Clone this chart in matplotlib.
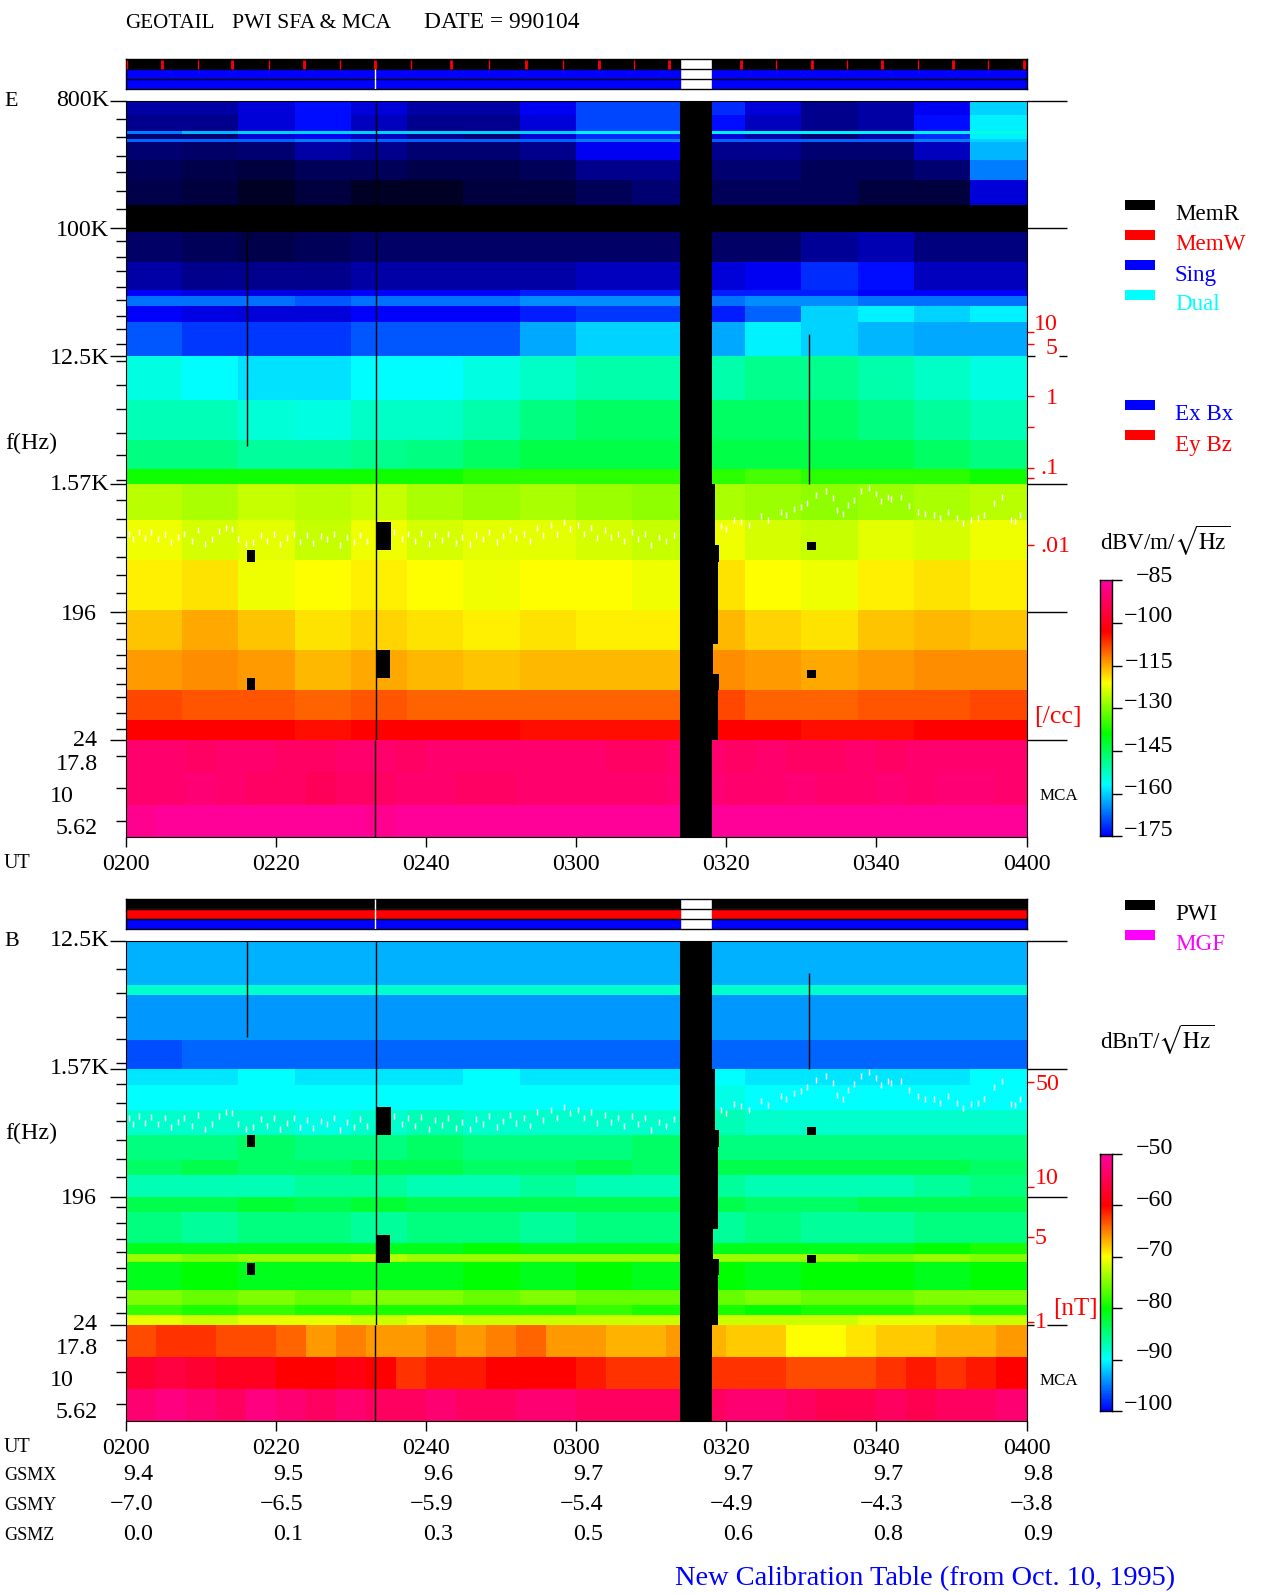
import numpy as np
import matplotlib
matplotlib.use("Agg")
import matplotlib.pyplot as plt
from matplotlib.colors import LinearSegmentedColormap, Normalize

W, H = 1280, 1593
plt.rcParams['font.family'] = ['Liberation Serif', 'DejaVu Serif']
plt.rcParams['mathtext.fontset'] = 'stix'

# ---- data ----
time_labels = ['0200', '0220', '0240', '0300', '0320', '0340', '0400']
time_ticks = [0, 20, 40, 60, 80, 100, 120]
gsmx = ['9.4', '9.5', '9.6', '9.7', '9.7', '9.7', '9.8']
gsmy = ['-7.0', '-6.5', '-5.9', '-5.4', '-4.9', '-4.3', '-3.8']
gsmz = ['0.0', '0.1', '0.3', '0.5', '0.6', '0.8', '0.9']

# E field, SFA part: dB per frequency row (top to bottom), 16 columns of 7.5 min.
# values under -175 stand for the black/blue speckle of the original
e_freq = [800000, 634600, 489000, 466000, 430000, 409000, 305000, 221000, 147000,
          95000, 58000, 37000, 33400, 28500, 22000, 12500, 6180, 3230, 2000, 1562.5,
          870, 455, 202, 105, 55, 33.8, 24.4]
e_sfa = [
    [-182, -182, -178, -174, -178, -182, -182, -176, -170, -170, -172, -178, -184, -182, -176, -160],
    [-184, -184, -178, -174, -180, -184, -184, -178, -170, -170, -174, -180, -184, -182, -174, -158],
    [-166, -162, -160, -160, -160, -160, -160, -160, -158, -158, -158, -158, -158, -158, -158, -155],
    [-186, -186, -178, -176, -180, -184, -186, -178, -172, -172, -178, -182, -186, -182, -172, -158],
    [-168, -168, -168, -166, -168, -168, -168, -168, -166, -166, -168, -168, -168, -168, -166, -160],
    [-186, -187, -186, -182, -184, -186, -186, -184, -176, -176, -184, -184, -186, -186, -180, -162],
    [-188, -189, -190, -188, -188, -189, -189, -188, -184, -184, -186, -186, -188, -188, -186, -166],
    [-189, -190, -192, -190, -192, -192, -190, -190, -188, -186, -188, -188, -188, -190, -190, -178],
    [-195, -195, -195, -195, -195, -195, -195, -195, -195, -195, -195, -195, -195, -195, -195, -195],
    [-187, -188, -189, -188, -187, -187, -187, -187, -187, -187, -187, -187, -183, -181, -185, -185],
    [-182, -184, -184, -184, -182, -182, -182, -182, -180, -180, -178, -176, -172, -174, -180, -180],
    [-175, -177, -177, -177, -175, -175, -175, -173, -173, -173, -173, -173, -173, -175, -175, -175],
    [-167, -167, -167, -169, -167, -167, -167, -165, -165, -165, -167, -165, -165, -167, -167, -167],
    [-175, -177, -178, -178, -175, -175, -175, -173, -171, -171, -173, -168, -160, -158, -160, -158],
    [-169, -171, -171, -171, -169, -169, -169, -163, -160, -160, -163, -158, -160, -162, -163, -163],
    [-155, -157, -159, -159, -157, -157, -155, -153, -151, -151, -151, -149, -149, -151, -153, -155],
    [-152, -152, -154, -155, -153, -153, -151, -148, -146, -146, -146, -146, -146, -148, -150, -152],
    [-148, -148, -150, -150, -149, -148, -146, -144, -144, -144, -144, -144, -144, -144, -146, -148],
    [-138, -138, -138, -138, -138, -138, -136, -136, -136, -136, -136, -134, -136, -136, -136, -138],
    [-126, -127, -125, -126, -125, -127, -128, -127, -128, -129, -127, -128, -129, -128, -127, -126],
    [-122, -124, -123, -125, -122, -124, -123, -123, -124, -125, -122, -124, -125, -123, -124, -122],
    [-120, -119, -122, -121, -120, -121, -122, -121, -121, -122, -119, -121, -122, -120, -119, -120],
    [-117, -115, -117, -119, -118, -119, -120, -119, -120, -120, -116, -118, -119, -117, -116, -117],
    [-114, -113, -114, -116, -115, -116, -117, -116, -116, -116, -113, -114, -115, -114, -113, -113],
    [-108, -109, -109, -110, -109, -110, -110, -110, -110, -110, -108, -110, -110, -109, -109, -108],
    [-103, -103, -103, -104, -103, -103, -103, -104, -104, -104, -103, -103, -104, -104, -103, -103],
]

# B field, SFA part
b_freq = [12500, 6080, 5180, 2490, 1562.5, 1198, 798, 532, 354, 278, 195.3, 152, 92, 77,
          67.6, 43, 33.7, 28.5, 24.4]
b_sfa = [
    [-93, -93, -93, -93, -93, -93, -93, -93, -93, -93, -93, -93, -93, -93, -93, -93],
    [-88, -88, -88, -88, -88, -88, -88, -88, -88, -88, -88, -88, -88, -88, -88, -88],
    [-94, -94, -94, -94, -94, -94, -94, -94, -94, -94, -94, -94, -94, -94, -94, -94],
    [-97, -96, -96, -96, -96, -96, -96, -96, -96, -96, -96, -96, -96, -96, -96, -96],
    [-91, -91, -90, -91, -91, -91, -90, -91, -91, -91, -90, -91, -91, -91, -91, -90],
    [-90, -90, -90, -90, -90, -90, -90, -90, -90, -90, -89, -90, -90, -90, -90, -90],
    [-88, -88, -88, -89, -88, -87, -88, -88, -88, -88, -87, -88, -88, -88, -88, -88],
    [-85, -85, -84, -85, -85, -84, -85, -85, -85, -84, -85, -85, -85, -85, -85, -85],
    [-84, -83, -84, -84, -83, -83, -84, -84, -83, -84, -83, -83, -83, -83, -83, -84],
    [-87, -87, -87, -86, -86, -87, -87, -86, -87, -87, -86, -87, -87, -87, -86, -85],
    [-83, -83, -82, -83, -82, -83, -83, -83, -83, -83, -83, -84, -84, -83, -83, -83],
    [-85, -86, -85, -85, -86, -85, -85, -86, -85, -85, -86, -85, -86, -86, -85, -85],
    [-81, -81, -81, -81, -81, -81, -80, -81, -81, -81, -81, -81, -81, -81, -80, -79],
    [-74, -75, -74, -74, -73, -74, -74, -74, -74, -74, -74, -74, -74, -75, -74, -75],
    [-81, -80, -81, -81, -81, -81, -80, -81, -80, -81, -80, -81, -80, -80, -81, -80],
    [-75, -76, -75, -76, -75, -75, -76, -75, -76, -76, -76, -75, -76, -76, -75, -75],
    [-78, -79, -78, -79, -79, -79, -79, -79, -78, -79, -79, -80, -79, -79, -78, -79],
    [-71, -72, -71, -71, -72, -71, -72, -72, -72, -72, -72, -72, -72, -71, -71, -72],
]

# MCA rows (top to bottom), 30 columns of 4 min, channels centred on 17.8, 10, 5.62 Hz
mca_freq = [23.7, 13.3, 7.5, 4.2]
e_mca = [
    [-91, -91, -92, -91, -91, -92, -92, -91, -91, -92, -91, -91, -91, -91, -91, -91, -92, -92, -91, -91, -92, -91, -92, -92, -91, -92, -91, -91, -91, -91],
    [-91, -91, -90, -91, -92, -92, -93, -92, -92, -91, -91, -92, -92, -91, -91, -91, -91, -91, -90, -90, -91, -91, -90, -91, -91, -90, -91, -90, -90, -91],
    [-87, -86, -86, -86, -86, -86, -86, -86, -87, -86, -86, -86, -86, -86, -86, -86, -86, -86, -86, -86, -86, -86, -86, -86, -86, -86, -86, -86, -86, -86],
]
b_mca = [
    [-63, -62, -62, -63, -63, -64, -66, -65, -66, -66, -65, -66, -65, -64, -66, -66, -67, -67, -66, -67, -68, -68, -70, -70, -69, -68, -68, -67, -67, -66],
    [-57, -56, -57, -58, -58, -60, -60, -59, -60, -62, -61, -61, -60, -60, -60, -61, -62, -62, -62, -62, -62, -62, -63, -63, -63, -62, -61, -62, -61, -60],
    [-53, -52, -53, -54, -52, -53, -54, -53, -54, -54, -53, -54, -54, -53, -53, -54, -54, -54, -54, -54, -53, -53, -54, -55, -55, -54, -55, -54, -54, -53],
]

# white trace, minutes after 0200 and Hz
trace_t = [0.4, 1, 1.8, 2.6, 3.4, 4.3, 5.2, 6, 7, 7.8, 8.8, 9.6, 10.6, 11.5, 12.4, 13.3, 14.2, 15, 16, 17,
           18, 18.8, 19.7, 20.6, 21.5, 22.4, 23.2, 24.2, 25, 26, 26.8, 27.8, 28.6, 29.5, 30.4, 31.2, 32.2,
           35.8, 36.8, 37.6, 38.6, 39.4, 40.4, 41.2, 42.2, 43, 44, 44.8, 45.8, 46.6, 47.6, 48.4, 49.4, 50.2,
           51.2, 52, 53, 53.8, 54.8, 55.6, 56.6, 57.4, 58.4, 59.2, 60.2, 61, 62, 62.8, 63.8, 64.6, 65.6, 66.4,
           67.4, 68.2, 69.2, 70, 71, 72, 73,
           79.3, 80, 81, 82, 83, 84.6, 85.5, 87.3, 88, 89, 89.9, 90.8, 92, 93.3, 94.2, 94.8, 95.5, 96.2, 97,
           98, 99, 100, 100.6, 101.5, 102, 103.3, 104.4, 105.5, 106.5, 107.7, 108.5, 109.5, 110.8, 111.5,
           112.6, 113.5, 114.4, 115.7, 116.8, 117.9, 118.5, 119.2]
trace_f = [700, 640, 720, 650, 715, 640, 700, 610, 660, 700, 620, 740, 590, 640, 730, 770, 760, 640, 590, 610,
           690, 620, 700, 590, 650, 700, 610, 680, 600, 670, 640, 700, 580, 660, 610, 690, 620,
           720, 640, 700, 620, 710, 590, 680, 630, 700, 600, 660, 590, 690, 640, 720, 610, 670,
           740, 650, 700, 620, 770, 680, 800, 700, 840, 760, 800, 700, 770, 650, 740, 660, 700, 620,
           720, 640, 700, 580, 660, 620, 690,
           797, 760, 880, 850, 800, 930, 870, 1000, 950, 1050, 1080, 1160, 1310, 1390, 1240, 1020, 960, 1110, 1210,
           1390, 1480, 1340, 1190, 1280, 1230, 1270, 1100, 1000, 960, 950, 900, 1000, 900, 830,
           880, 900, 950, 1160, 1270, 880, 860, 950]

# data gap and its stepped right edge
gap_start, gap_end = 73.8, 78.1
gap_step_top = [1562.5, 580, 440, 116, 71, 55]
gap_step_bottom = [580, 440, 116, 71, 55, 24.4]
gap_step_end = [78.5, 79.1, 78.9, 78.3, 79.1, 78.9]

# small black blocks: start, end, top Hz, bottom Hz
block_start = [16.2, 16.2, 33.5, 33.5, 90.8, 90.8]
block_end = [17.2, 17.2, 35.4, 35.2, 92, 92]
block_top = [534, 66.9, 842, 105, 609, 76]
block_bottom = [440, 55, 534, 66.9, 534, 66.9]

# red marks in the top status bar, minutes
red_thin = [0.2, 9.6, 19.1, 28.5, 38, 48.4, 58.2, 67.7, 86.6, 96.1, 105.5, 114.9]
red_thick = [4.9, 14.2, 23.7, 33.2, 43.3, 53.3, 63, 72.4, 82, 91.4, 100.8, 110.2, 119.7]

e_bar_ticks = [-85, -100, -115, -130, -145, -160, -175]
b_bar_ticks = [-50, -60, -70, -80, -90, -100]

# ---- layout, in pixels of the figure ----
X0, X1 = 125.7, 1026.5
fig = plt.figure(figsize=(W / 100, H / 100), dpi=100, facecolor='white')


def px_axes(x0, y0, x1, y1, **kw):
    return fig.add_axes([x0 / W, 1 - y1 / H, (x1 - x0) / W, (y1 - y0) / H], **kw)


def spec_cmap(floor, lo, hi):
    # black below lo, then the rainbow of the colour bars
    span = hi - lo
    stops = [(floor, '#000000'), (lo, '#0000ff'), (lo + .2 * span, '#00ffff'),
             (lo + .4 * span, '#00ff00'), (lo + .6 * span, '#ffff00'),
             (lo + .8 * span, '#ff0000'), (hi, '#ff00a0')]
    return LinearSegmentedColormap.from_list(
        'spec', [((v - floor) / (hi - floor), c) for v, c in stops], N=512)


def status_bar(top, colors, white_rows):
    ax = px_axes(X0, top, X1, top + 30)
    ax.set_xlim(0, 120)
    ax.set_ylim(3, 0)
    for i, c in enumerate(colors):
        ax.broken_barh([(0, gap_start), (gap_end, 120 - gap_end)], (i, 1), color=c)
        if i in white_rows:
            ax.vlines(33.2, i, i + 1, color='white', lw=1, zorder=4)
    ax.hlines([1, 2], 0, 120, color='black', lw=1)
    ax.set_xticks([])
    ax.set_yticks([])
    for s in ax.spines.values():
        s.set_linewidth(1)
    return ax


def panel(top, split, bottom, freq, sfa, mca, floor, lo, hi, dark_lines):
    cmap = spec_cmap(floor, lo, hi)
    norm = Normalize(floor, hi)
    ax = px_axes(X0, top, X1, split)
    ax.set_facecolor('black')
    ax.pcolormesh(np.linspace(0, 120, 17), freq, np.array(sfa, dtype=float), cmap=cmap, norm=norm,
                  shading='flat', antialiased=False, rasterized=True)
    ax.set_yscale('log')
    ax.set_ylim(24.4, freq[0])
    ax.set_xlim(0, 120)
    ax.set_xticks([])
    ax.set_yticks([])
    ax.minorticks_off()
    ax.axvspan(gap_start, gap_end, color='black', zorder=3, lw=0)
    for a, b, e in zip(gap_step_top, gap_step_bottom, gap_step_end):
        ax.fill_betweenx([b, a], gap_end, e, color='black', zorder=3, lw=0)
    for s, e, a, b in zip(block_start, block_end, block_top, block_bottom):
        ax.fill_betweenx([b, a], s, e, color='black', zorder=3, lw=0)
    ax.plot(trace_t, trace_f, ls='none', marker='|', ms=4, mew=1, color='white', zorder=2)
    for t, a, b in dark_lines:
        ax.vlines(t, b, a, color='black', lw=1, zorder=3)
    ax.spines['bottom'].set_visible(False)

    low = px_axes(X0, split, X1, bottom)
    low.set_facecolor('black')
    low.pcolormesh(np.linspace(0, 120, 31), mca_freq, np.array(mca, dtype=float), cmap=cmap, norm=norm,
                   shading='flat', antialiased=False, rasterized=True)
    low.set_yscale('log')
    low.set_ylim(mca_freq[-1], mca_freq[0])
    low.set_xlim(0, 120)
    low.set_yticks([])
    low.minorticks_off()
    low.axvspan(gap_start, gap_end, color='black', zorder=3, lw=0)
    low.vlines(33.2, mca_freq[-1], mca_freq[0], color='black', lw=1, zorder=3)
    low.set_xticks(time_ticks)
    low.set_xticklabels(time_labels, fontsize=17.3)
    low.tick_params(axis='x', length=7.2, width=1, pad=5)
    low.spines['top'].set_visible(False)
    return ax, low


def color_bar(top, bottom, floor, lo, hi, ticks):
    cmap = spec_cmap(floor, lo, hi)
    ax = px_axes(1100, top, 1111.5, bottom)
    ax.imshow(np.linspace(hi, lo, 256).reshape(-1, 1), cmap=cmap, norm=Normalize(floor, hi),
              aspect='auto', extent=(0, 1, lo, hi), interpolation='nearest')
    ax.set_xticks([])
    ax.yaxis.tick_right()
    ax.set_yticks(ticks)
    ax.set_yticklabels([])
    ax.tick_params(axis='y', length=7, width=1)
    for s in ax.spines.values():
        s.set_linewidth(1)


status_bar(59.3, ['black', '#0000ff', '#0000ff'], [1, 2])
status_bar(899, ['black', '#ff0000', '#0000ff'], [0, 1, 2])
top_bar = fig.axes[0]
top_bar.vlines(red_thin, 0.05, 0.95, color='#ff0000', lw=1, zorder=3)
top_bar.vlines(red_thick, 0.05, 0.95, color='#ff0000', lw=2, zorder=3)

panel(100.7, 740, 837.3, e_freq, e_sfa, e_mca, -195, -175, -85,
      [(16.2, 100000, 2900), (33.3, 800000, 24.4), (91, 18000, 1562.5)])
panel(940.7, 1324.7, 1421, b_freq, b_sfa, b_mca, -106, -100, -50,
      [(16.2, 12500, 2600), (33.3, 12500, 24.4), (91, 7400, 1562.5)])

color_bar(580.3, 836.3, -195, -175, -85, e_bar_ticks)
color_bar(1154, 1411, -106, -100, -50, b_bar_ticks)

# ---- everything that sits outside the plots ----
ov = fig.add_axes([0, 0, 1, 1], facecolor='none', zorder=10)
ov.set_xlim(0, W)
ov.set_ylim(H, 0)
ov.axis('off')


def label(x, y, s, size=24, ha='left', color='black'):
    # va center of this font sits high, so push down a little
    ov.text(x, y + 3, s, fontsize=size * 0.72, ha=ha, va='center', color=color)


# left ticks
e_minor = [119, 137, 156, 172, 191, 209, 241, 257, 271, 287, 300, 316, 329, 344, 361, 385, 409, 433, 455, 480,
           500, 519, 537, 557, 575, 593, 623, 639, 655, 668, 684, 697, 713, 729, 756, 788, 821]
b_minor = [969, 993, 1017, 1039, 1063, 1084, 1103, 1121, 1140, 1159, 1177, 1207, 1223, 1239, 1252, 1268, 1281,
           1297, 1313, 1340, 1372, 1404]
ov.hlines(e_minor + b_minor, 115.5, X0, color='black', lw=1)
ov.hlines([100.7, 228, 356, 484, 612, 740, 940.7, 1068.7, 1196.7, 1324.7], 110, X0, color='black', lw=1)
# long right lines
ov.hlines([100.7, 228, 484, 612, 740, 940.7, 1068.7, 1196.7], X1, 1067, color='black', lw=1)
ov.hlines([356, 1324.7], [X1, X1], [1035, 1034], color='black', lw=1)
ov.hlines([356, 1324.7], [1059, 1047], 1067, color='black', lw=1)

# title
label(125, 20, 'GEOTAIL', 21)
label(232, 20, 'PWI SFA & MCA', 21.6)
label(424, 20, 'DATE = 990104', 23.5)

# frequency labels
for y, s, x in [(98, '800K', 109), (227, '100K', 109), (355, '12.5K', 109), (482, '1.57K', 109),
                (611, '196', 97), (738, '24', 97), (762, '17.8', 98), (826, '5.62', 98),
                (938, '12.5K', 109), (1066, '1.57K', 109), (1195, '196', 97), (1322, '24', 97),
                (1346, '17.8', 98), (1410, '5.62', 98)]:
    label(x, y, s, ha='right')
label(50, 794, '10')
label(50, 1378, '10')
label(4, 98, 'E', 22)
label(4, 938, 'B', 22)
label(5, 440, 'f(Hz)')
label(5, 1130, 'f(Hz)')
label(4, 861, 'UT', 20)
label(4, 1444, 'UT', 20)

# orbit rows
for y, name, vals in [(1472, 'GSMX', gsmx), (1502, 'GSMY', gsmy), (1532, 'GSMZ', gsmz)]:
    label(4, y, name, 18)
    for i, v in enumerate(vals):
        label(153 + 150 * i, y, v.replace('-', '\u2212'), ha='right')

# red density scale
ov.hlines([332, 344, 396, 427, 468, 478, 545], X1, 1034, color='#ff0000', lw=1)
ov.hlines([1082, 1187, 1237, 1322], X1, 1034, color='#ff0000', lw=1)
for y, s, x in [(322, '10', 1058), (345, '5', 1058), (395, '1', 1058), (466, '.1', 1058), (543, '.01', 1070),
                (1082, '50', 1059), (1176, '10', 1059), (1235, '5', 1047), (1319, '1', 1047)]:
    label(x, y, s, ha='right', color='#ff0000')
label(1034, 714, '[/cc]', 26, color='#ff0000')
label(1053, 1306, '[nT]', 25, color='#ff0000')
label(1040, 793, 'MCA', 17)
label(1040, 1378, 'MCA', 17)

# colour bar labels
label(1100, 538, r'dBV/m/$\sqrt{\mathrm{Hz}}$', 23)
label(1100, 1037, r'dBnT/$\sqrt{\mathrm{Hz}}$', 23)
for y, v in zip([573, 614, 659, 700, 743, 786, 828], e_bar_ticks):
    label(1173, y, str(v).replace('-', '\u2212'), ha='right')
for y, v in zip([1146, 1198, 1248, 1300, 1350, 1401], b_bar_ticks):
    label(1173, y, str(v).replace('-', '\u2212'), ha='right')

# legends
for y, name, c in [(205, 'MemR', 'black'), (235, 'MemW', '#ff0000'), (265, 'Sing', '#0000ff'),
                   (295, 'Dual', '#00ffff'), (405, 'Ex Bx', '#0000ff'), (435, 'Ey Bz', '#ff0000'),
                   (905, 'PWI', 'black'), (935, 'MGF', '#ff00ff')]:
    ov.fill_between([1125, 1155], y - 5, y + 5, color=c, lw=0)
    label(1175, y + 7, name, 23, color='black' if name in ('MemR', 'PWI') else c)

label(675, 1576, 'New Calibration Table (from Oct. 10, 1995)', 28.4, color='#0000ff')

fig.savefig('out.png', dpi=100, facecolor='white')
